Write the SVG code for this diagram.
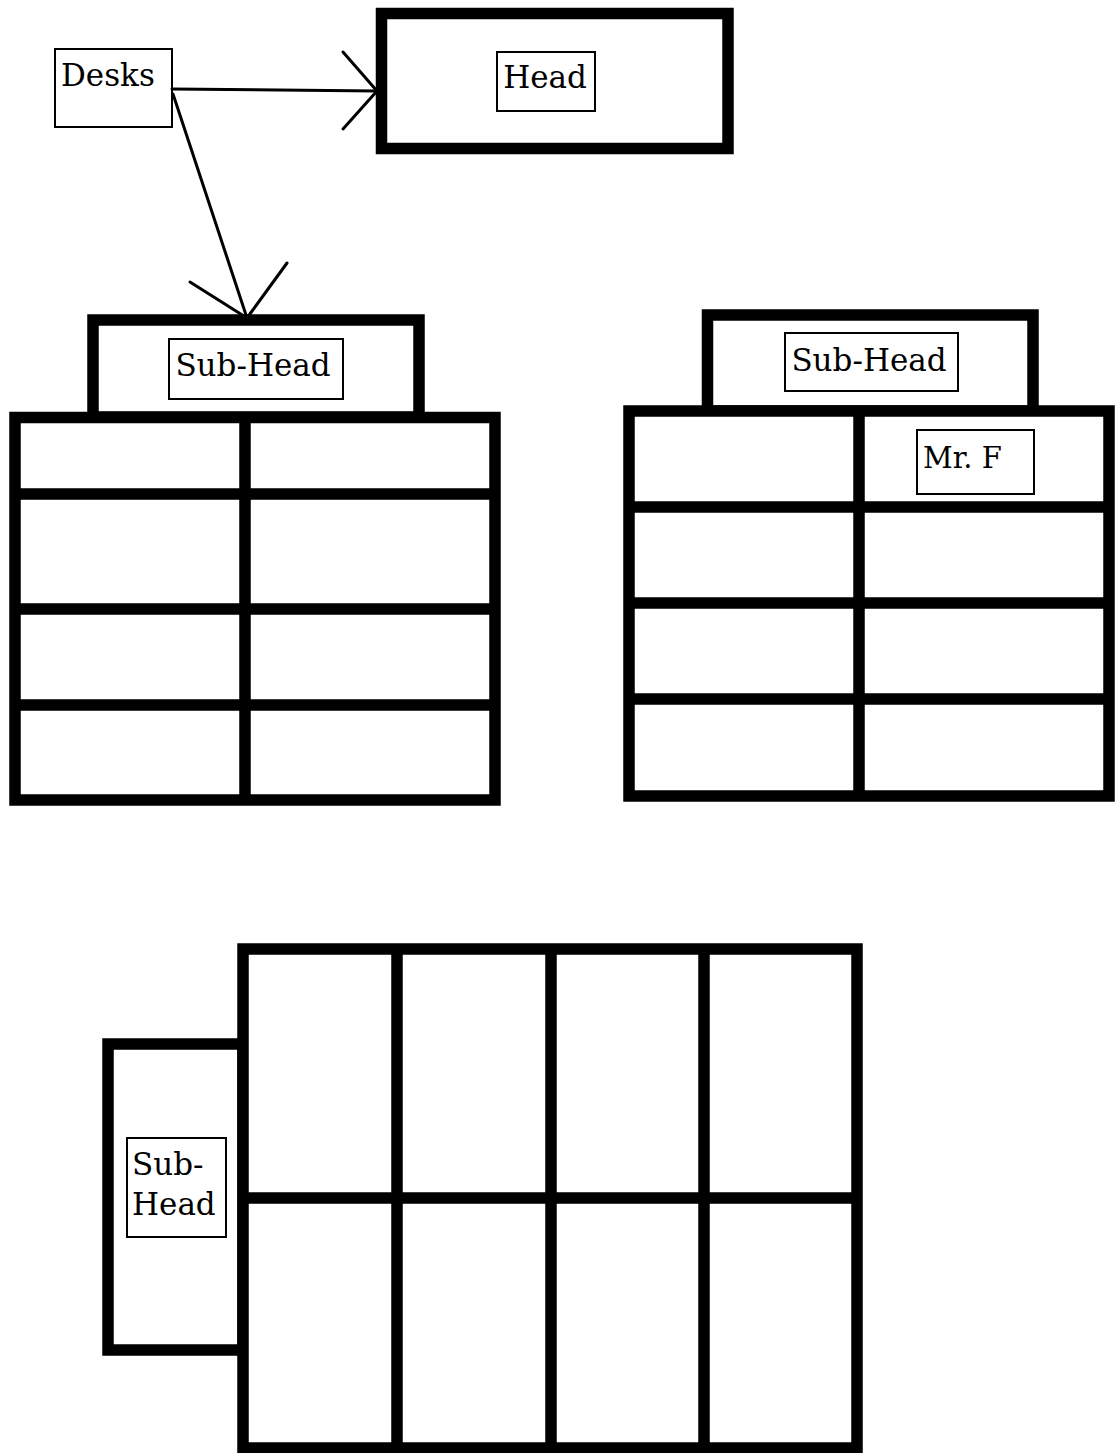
<svg xmlns="http://www.w3.org/2000/svg" width="1117" height="1453" viewBox="0 0 1117 1453">
<style>
.thick{fill:#fff;stroke:#000;stroke-width:11.5;stroke-linejoin:miter}
.div{fill:none;stroke:#000;stroke-width:11.5}
.lbl{fill:#fff;stroke:#000;stroke-width:2}
.t{font-family:"DejaVu Serif","Liberation Serif",serif;font-size:31px;fill:#000}
.conn{fill:none;stroke:#000;stroke-width:3;stroke-linecap:round;stroke-linejoin:round}
</style>
<rect width="1117" height="1453" fill="#fff"/>

<g id="desks">
<rect class="lbl" x="55" y="49" width="117" height="78"/>
<text class="t" x="61" y="86">Desks</text>
</g>

<g id="head">
<rect class="thick" x="381.5" y="13.5" width="346.5" height="135"/>
<rect class="lbl" x="497" y="52" width="98" height="59"/>
<text class="t" x="545" y="88" text-anchor="middle">Head</text>
</g>

<g id="left-group">
<rect class="thick" x="93" y="320" width="326" height="97"/>
<rect class="lbl" x="169" y="339" width="174" height="60"/>
<text class="t" x="253" y="376" text-anchor="middle">Sub-Head</text>
<rect class="thick" x="15" y="417.5" width="480" height="382.5"/>
<path class="div" d="M245 417.5V800M15 494H495M15 609H495M15 705H495"/>
</g>

<g id="right-group">
<rect class="thick" x="707.5" y="315" width="325.5" height="96"/>
<rect class="lbl" x="785" y="333" width="173" height="58"/>
<text class="t" x="869" y="371" text-anchor="middle">Sub-Head</text>
<rect class="thick" x="629" y="411" width="480" height="385"/>
<path class="div" d="M859 411V796M629 507H1109M629 603H1109M629 699H1109"/>
<rect class="lbl" x="917" y="430" width="117" height="64"/>
<text class="t" x="923" y="468" style="font-size:29px">Mr. F</text>
</g>

<g id="bottom-group">
<rect class="thick" x="108" y="1044" width="135" height="306"/>
<rect class="lbl" x="127" y="1138" width="99" height="99"/>
<text class="t" x="132" y="1175">Sub-</text>
<text class="t" x="132" y="1215">Head</text>
<rect class="thick" x="243" y="949" width="614" height="499"/>
<path class="div" d="M397 949V1448M551 949V1448M704 949V1448M243 1198H857"/>
</g>

<g id="connectors">
<path class="conn" d="M172 89L377 91"/>
<polyline class="conn" points="343,52 377,91 343,129"/>
<path class="conn" d="M173 94L247 318"/>
<polyline class="conn" points="190,282 247,318 287,263"/>
</g>
</svg>
